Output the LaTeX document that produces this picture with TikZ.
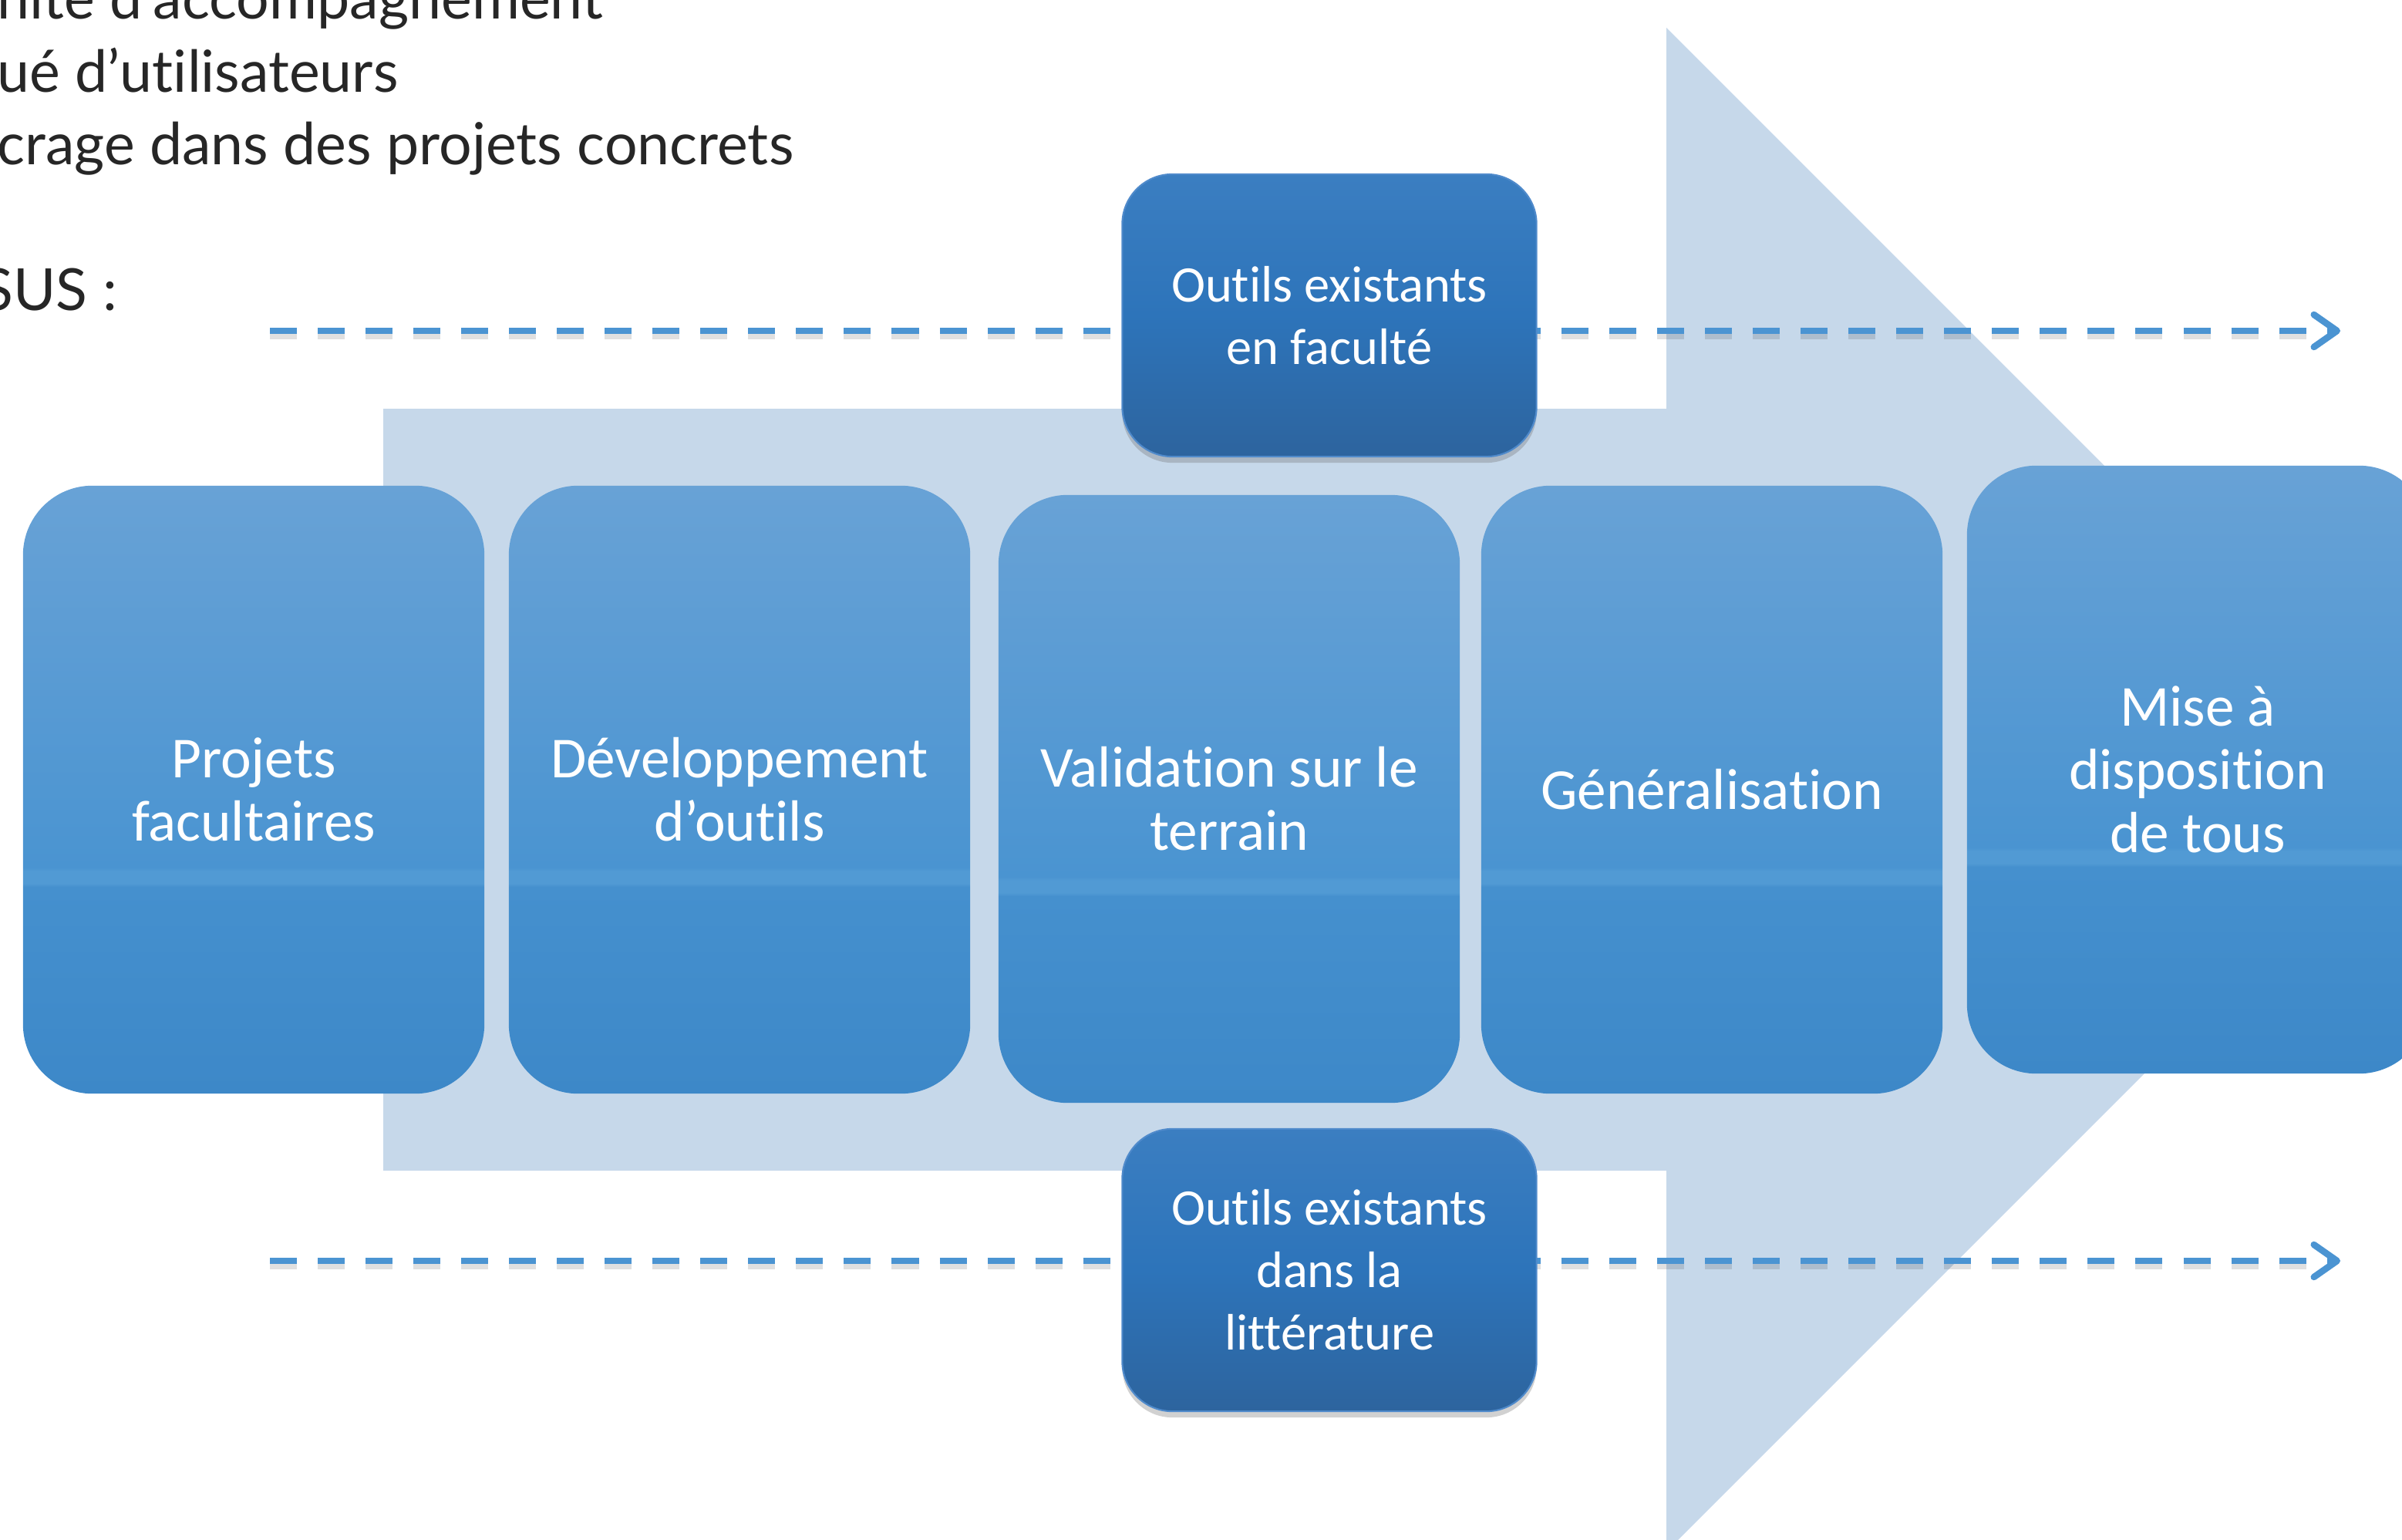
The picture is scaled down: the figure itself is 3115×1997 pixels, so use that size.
\documentclass[tikz,border=0pt]{standalone}
\usepackage{fontspec}
\usetikzlibrary{arrows.meta,shadows}
\newfontfamily\boxfont{Carlito}[Ligatures={NoCommon}]
\newfontfamily\avfont{Lato}[Ligatures={NoCommon}]
\definecolor{arrowbg}{HTML}{C6D8EA}
\definecolor{bbot}{HTML}{3D88C8}
\definecolor{bband0}{HTML}{4590CE}
\definecolor{bband1}{HTML}{519AD4}
\definecolor{bband2}{HTML}{4A94D1}
\definecolor{btop}{HTML}{68A2D6}
\definecolor{stop}{HTML}{3B7EC1}
\definecolor{smid}{HTML}{2D74BA}
\definecolor{sbot}{HTML}{2D649E}
\definecolor{sborder}{HTML}{4F8ACB}
\definecolor{dashcol}{HTML}{4B94D2}
\definecolor{textgray}{HTML}{262626}
\pgfdeclareverticalshading{bigshade}{100bp}{color(0bp)=(bbot); color(25bp)=(bbot); color(42bp)=(bband0); color(42.3bp)=(bband1); color(43.3bp)=(bband1); color(43.6bp)=(bband2); color(75bp)=(btop); color(100bp)=(btop)}
\pgfdeclareverticalshading{smallshade}{100bp}{color(0bp)=(sbot); color(25bp)=(sbot); color(50bp)=(smid); color(75bp)=(stop); color(100bp)=(stop)}
\begin{document}
\begin{tikzpicture}[x=0.01cm,y=-0.01cm,
  bigbox/.style={rounded corners=0.9cm, minimum width=5.98cm, minimum height=7.88cm,
    shading=bigshade, text=white, align=center, inner sep=0pt,
    font=\boxfont\fontsize{21.4}{23.3}\selectfont},
  smallbox/.style={rounded corners=0.65cm, minimum width=5.37cm, minimum height=3.66cm,
    shading=smallshade, draw=sborder, line width=0.6pt, text=white, align=center, inner sep=0pt,
    drop shadow={shadow xshift=0pt, shadow yshift=-0.08cm, opacity=0.3, fill=black!60},
    font=\boxfont\fontsize{18.9}{23}\selectfont},
  toptext/.style={anchor=base west, inner sep=0pt, text=textgray,
    font=\avfont\fontsize{21.4}{26}\selectfont},
  dashline/.style={draw=dashcol, line width=0.085cm, dash pattern=on 0.35cm off 0.27cm,
    -{Straight Barb[length=0.3cm, width=0.42cm, round]}},
  dashshadow/.style={draw=black, opacity=0.12, line width=0.12cm, dash pattern=on 0.35cm off 0.27cm}
]
\useasboundingbox (0,0) rectangle (3115,1997);
\clip (0,0) rectangle (3115,1997);

% big background arrow
\fill[arrowbg] (497,530) -- (2161,530) -- (2161,36) -- (3149,1024) -- (2161,2012) -- (2161,1518) -- (497,1518) -- cycle;

% top-left text
\node[toptext] (t1) at (-4,25) {nité d’accompagnement};
\node[toptext] (t2) at (-4,120) {ué d’utilisateurs};
\node[toptext] (t3) at (-4,214) {crage dans des projets concrets};
\node[toptext] (t4) at (-24,402) {SUS :};

% dashed lines
\coordinate (tl) at (350,429);
\coordinate (tr) at (3035,429);
\coordinate (bl) at (350,1635);
\coordinate (br) at (3035,1635);
\draw[dashshadow] ([yshift=-0.05cm]tl) -- ([yshift=-0.05cm,xshift=-0.3cm]tr);
\draw[dashshadow] ([yshift=-0.05cm]bl) -- ([yshift=-0.05cm,xshift=-0.3cm]br);
\draw[dashline] (tl) -- (tr);
\draw[dashline] (bl) -- (br);

% process boxes
\node[bigbox] (b1) at (329,1024) {Projets\\facultaires};
\node[bigbox] (b2) at (959,1024) {Développement\\d’outils};
\node[bigbox] (b3) at (1594,1036) {Validation sur le\\terrain};
\node[bigbox] (b4) at (2220,1024) {Généralisation};
\node[bigbox] (b5) at (2850,998) {Mise à\\disposition\\de tous};

% input boxes
\node[smallbox] (s1) at (1724,409) {Outils existants\\en faculté};
\node[smallbox] (s2) at (1724,1647) {Outils existants\\dans la\\littérature};
\end{tikzpicture}
\end{document}
